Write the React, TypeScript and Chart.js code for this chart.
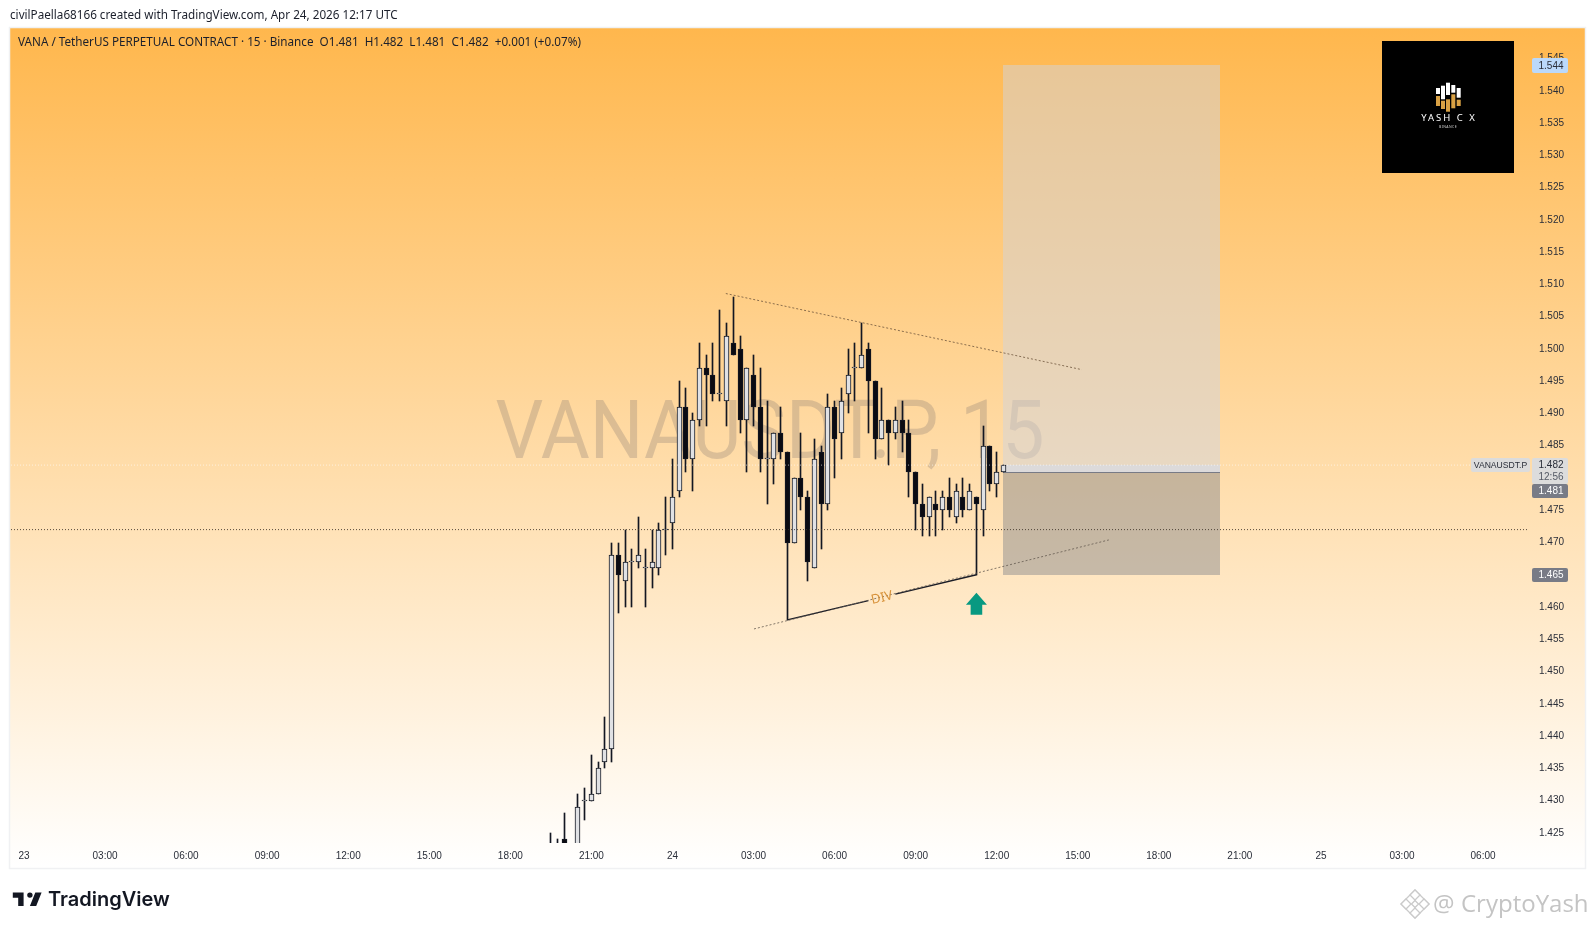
import React, { useEffect, useRef } from "react";
import { Chart, registerables } from "chart.js";

Chart.register(...registerables);

const firstBar = 78;
const opens = [1.422,1.421,1.424,1.420,1.422,1.430,1.430,1.431,1.436,1.438,1.468,1.464,1.467,1.467,1.466,1.466,1.466,1.472,1.473,1.478,1.491,1.483,1.489,1.497,1.496,1.493,1.492,1.501,1.500,1.489,1.496,1.491,1.483,1.483,1.487,1.484,1.470,1.480,1.477,1.466,1.484,1.476,1.491,1.487,1.493,1.497,1.497,1.500,1.495,1.486,1.489,1.487,1.489,1.487,1.481,1.476,1.474,1.476,1.475,1.477,1.474,1.477,1.475,1.477,1.475,1.485,1.479,1.481];
const highs = [1.425,1.424,1.428,1.423,1.431,1.432,1.437,1.436,1.443,1.470,1.470,1.472,1.469,1.474,1.469,1.472,1.473,1.477,1.483,1.495,1.494,1.490,1.501,1.499,1.501,1.506,1.504,1.508,1.502,1.497,1.499,1.497,1.492,1.487,1.491,1.484,1.480,1.487,1.478,1.486,1.485,1.493,1.492,1.494,1.500,1.501,1.504,1.501,1.495,1.494,1.489,1.491,1.492,1.489,1.481,1.479,1.477,1.478,1.478,1.480,1.479,1.480,1.479,1.477,1.488,1.485,1.484,1.482];
const lows = [1.420,1.420,1.420,1.419,1.421,1.427,1.430,1.431,1.435,1.436,1.459,1.460,1.460,1.466,1.460,1.463,1.465,1.468,1.469,1.477,1.481,1.478,1.488,1.488,1.492,1.492,1.488,1.499,1.487,1.481,1.488,1.481,1.476,1.479,1.483,1.458,1.470,1.475,1.464,1.466,1.469,1.475,1.480,1.483,1.490,1.492,1.497,1.487,1.483,1.486,1.482,1.486,1.484,1.477,1.472,1.471,1.471,1.471,1.472,1.474,1.473,1.474,1.475,1.465,1.471,1.478,1.477,1.481];
const closes = [1.423,1.422,1.422,1.422,1.429,1.430,1.431,1.435,1.438,1.468,1.465,1.467,1.467,1.468,1.466,1.467,1.472,1.472,1.477,1.491,1.483,1.489,1.497,1.496,1.493,1.493,1.502,1.499,1.489,1.497,1.491,1.483,1.483,1.487,1.484,1.470,1.480,1.477,1.467,1.483,1.476,1.491,1.486,1.492,1.496,1.497,1.499,1.495,1.486,1.489,1.487,1.489,1.487,1.481,1.476,1.474,1.477,1.475,1.477,1.475,1.478,1.475,1.478,1.476,1.485,1.479,1.481,1.482];

const priceTicks = [1.425,1.43,1.435,1.44,1.445,1.45,1.455,1.46,1.465,1.47,1.475,1.48,1.485,1.49,1.495,1.5,1.505,1.51,1.515,1.52,1.525,1.53,1.535,1.54,1.545];
const timeTickBars = [0,12,24,36,48,60,72,84,96,108,120,132,144,156,168,180,192,204,216];
const timeTickLabels = ["23","03:00","06:00","09:00","12:00","15:00","18:00","21:00","24","03:00","06:00","09:00","12:00","15:00","18:00","21:00","25","03:00","06:00"];

const boxBars = [144.95, 177.1];
const targetPrice = 1.544;
const currentPrice = 1.482;
const entryPrice = 1.481;
const stopPrice = 1.465;
const darkLevel = 1.472;

const upperTrendX = [103.9, 156.6];
const upperTrendY = [1.5086, 1.4968];
const lowerTrendX = [108.07, 160.6];
const lowerTrendY = [1.4566, 1.4704];
const solidLeftX = [113, 125];
const solidLeftY = [1.458, 1.461];
const solidRightX = [129, 141];
const solidRightY = [1.462, 1.465];
const arrowBar = 141;
const arrowTopPrice = 1.4622;
const divBar = 127;
const divPrice = 1.4614;

const xMin = -1.92;
const xMax = 222.8;
const yMin = 1.423414;
const yMax = 1.549764;

const headerText = "civilPaella68166 created with TradingView.com, Apr 24, 2026 12:17 UTC";
const legendText = "VANA / TetherUS PERPETUAL CONTRACT · 15 · Binance  O1.481  H1.482  L1.481  C1.482  +0.001 (+0.07%)";
const watermarkText = "VANAUSDT.P, 15";

const UI = '"Noto Sans", sans-serif';
const AXIS = '"Liberation Sans", sans-serif';

function pill(ctx: CanvasRenderingContext2D, x: number, y: number, w: number, h: number, fill: string) {
  ctx.fillStyle = fill;
  ctx.beginPath();
  ctx.roundRect(x, y, w, h, 2);
  ctx.fill();
}

const overlay = {
  id: "tvOverlay",
  beforeDraw(chart: any) {
    const { ctx, width, height } = chart;
    ctx.save();
    ctx.fillStyle = "#ffffff";
    ctx.fillRect(0, 0, width, height);
    const g = ctx.createLinearGradient(0, 28, 0, 868);
    g.addColorStop(0, "#FFB74D");
    g.addColorStop(1, "#FFFFFF");
    ctx.fillStyle = g;
    ctx.fillRect(10, 28, 1575, 840);
    ctx.strokeStyle = "#f0f1f3";
    ctx.lineWidth = 1.5;
    ctx.strokeRect(9.5, 27.5, 1576, 841);
    ctx.restore();
  },
  beforeDatasetsDraw(chart: any) {
    const { ctx, scales } = chart;
    const x = scales.x;
    const y = scales.y;
    ctx.save();
    // large symbol watermark, fitted to the width it has in the reference
    ctx.save();
    ctx.font = '400 82px Roboto, sans-serif';
    const fit = 549 / ctx.measureText(watermarkText).width;
    ctx.translate(770, 437);
    ctx.scale(fit, 1);
    ctx.textAlign = "center";
    ctx.textBaseline = "middle";
    ctx.fillStyle = "rgba(125,115,110,0.28)";
    ctx.fillText(watermarkText, 0, 0);
    ctx.restore();
    // long position box
    const l = Math.round(x.getPixelForValue(boxBars[0]));
    const r = Math.round(x.getPixelForValue(boxBars[1]));
    const yT = Math.round(y.getPixelForValue(targetPrice));
    const yC = Math.round(y.getPixelForValue(currentPrice));
    const yE = Math.round(y.getPixelForValue(entryPrice));
    const yS = Math.round(y.getPixelForValue(stopPrice));
    ctx.fillStyle = "rgba(209,212,220,0.5)";
    ctx.fillRect(l, yT, r - l, yC - yT);
    ctx.fillStyle = "rgba(217,217,222,0.92)";
    ctx.fillRect(l, yC, r - l, yE - yC);
    ctx.fillStyle = "rgba(120,123,134,0.42)";
    ctx.fillRect(l, yE, r - l, yS - yE);
    ctx.fillStyle = "#787b86";
    ctx.fillRect(l, yE, r - l, 1);
    ctx.restore();
    // keep candles crisp on the pixel grid
    chart.data.datasets.forEach((ds: any, i: number) => {
      if (ds.type !== "bar") return;
      chart.getDatasetMeta(i).data.forEach((el: any) => {
        el.x = Math.floor(el.x) + 0.5;
        el.y = Math.round(el.y);
        el.base = Math.round(el.base);
      });
    });
  },
  afterDraw(chart: any) {
    const { ctx, scales } = chart;
    const x = scales.x;
    const y = scales.y;
    ctx.save();
    // arrow
    const ax = x.getPixelForValue(arrowBar);
    const at = y.getPixelForValue(arrowTopPrice);
    ctx.fillStyle = "#089981";
    ctx.beginPath();
    ctx.moveTo(ax, at);
    ctx.lineTo(ax + 10.5, at + 12);
    ctx.lineTo(ax + 5.8, at + 12);
    ctx.lineTo(ax + 5.8, at + 22);
    ctx.lineTo(ax - 5.8, at + 22);
    ctx.lineTo(ax - 5.8, at + 12);
    ctx.lineTo(ax - 10.5, at + 12);
    ctx.closePath();
    ctx.fill();
    // DIV label
    ctx.save();
    ctx.translate(x.getPixelForValue(divBar), y.getPixelForValue(divPrice));
    ctx.rotate((-13.4 * Math.PI) / 180);
    ctx.font = '13px "Noto Sans", sans-serif';
    ctx.textAlign = "center";
    ctx.textBaseline = "middle";
    ctx.fillStyle = "#d8923a";
    ctx.fillText("DIV", 0, 0);
    ctx.restore();

    // header and legend
    ctx.textBaseline = "middle";
    ctx.textAlign = "left";
    ctx.font = `11.7px ${UI}`;
    ctx.fillStyle = "#1b1f2b";
    ctx.fillText(headerText, 10, 15.5);
    ctx.fillText(legendText, 18, 42.5);

    // logo block
    ctx.fillStyle = "#000000";
    ctx.fillRect(1382, 41, 132, 132);
    const logoX = [1436, 1441, 1446, 1451.3, 1456.7];
    const whiteTop = [88, 85.7, 82.7, 85, 88];
    const whiteBot = [94, 99.3, 95, 92.7, 97.7];
    const goldTop = [96, 100.7, 99.3, 94.3, 99.7];
    const goldBot = [106, 109, 111.7, 108.3, 106];
    logoX.forEach((lx, i) => {
      ctx.fillStyle = "#ffffff";
      ctx.fillRect(lx, whiteTop[i] , 4, whiteBot[i] - whiteTop[i]);
      ctx.fillStyle = "#d9a144";
      ctx.fillRect(lx, goldTop[i], 4, goldBot[i] - goldTop[i]);
    });
    ctx.textAlign = "center";
    ctx.fillStyle = "#ffffff";
    ctx.font = `9.5px ${UI}`;
    (ctx as any).letterSpacing = "2px";
    ctx.fillText("YASH C X", 1449, 118);
    (ctx as any).letterSpacing = "0.4px";
    ctx.font = `3.5px ${UI}`;
    ctx.fillStyle = "#cccccc";
    ctx.fillText("BINANCE", 1448, 126.5);
    (ctx as any).letterSpacing = "0px";

    // price pills
    ctx.font = `10px ${AXIS}`;
    ctx.textAlign = "center";
    pill(ctx, 1532, 58, 36, 15, "#bbd9fb");
    ctx.fillStyle = "#2a2e39";
    ctx.fillText(targetPrice.toFixed(3), 1551, 66);
    pill(ctx, 1471, 458, 59, 14, "#dcdcdc");
    ctx.fillStyle = "#2a2e39";
    ctx.font = `8.6px ${AXIS}`;
    ctx.fillText("VANAUSDT.P", 1500.5, 465.5);
    ctx.font = `10px ${AXIS}`;
    pill(ctx, 1532, 458, 36, 26, "#dcdcdc");
    ctx.fillStyle = "#2a2e39";
    ctx.fillText(currentPrice.toFixed(3), 1551, 465.5);
    ctx.fillStyle = "#555a66";
    ctx.fillText("12:56", 1551, 477);
    pill(ctx, 1532, 484, 36, 14, "#787b86");
    ctx.fillStyle = "#ffffff";
    ctx.fillText(entryPrice.toFixed(3), 1551, 491.5);
    pill(ctx, 1532, 568, 36, 14, "#787b86");
    ctx.fillStyle = "#ffffff";
    ctx.fillText(stopPrice.toFixed(3), 1551, 575.5);

    // TradingView mark
    ctx.save();
    ctx.translate(11, 887);
    ctx.scale(0.9, 0.9);
    ctx.fillStyle = "#131722";
    ctx.fill(new Path2D("M14 6H2v6h6v9h6V6zm14 15h-7l6-15h7l-6 15zm-7-9a3 3 0 1 0 0-6 3 3 0 0 0 0 6z"));
    ctx.restore();
    ctx.textAlign = "left";
    ctx.fillStyle = "#131722";
    ctx.font = '600 20px Inter, sans-serif';
    ctx.fillText("TradingView", 48, 900);

    // Binance style mark and handle
    ctx.strokeStyle = "#cacaca";
    ctx.fillStyle = "#ffffff";
    ctx.lineWidth = 1.3;
    const diamond = (cx: number, cy: number, h: number) => {
      ctx.beginPath();
      ctx.moveTo(cx, cy - h);
      ctx.lineTo(cx + h, cy);
      ctx.lineTo(cx, cy + h);
      ctx.lineTo(cx - h, cy);
      ctx.closePath();
      ctx.fill();
      ctx.stroke();
    };
    diamond(1415, 904, 14);
    diamond(1415, 895, 5);
    diamond(1415, 913, 5);
    diamond(1406, 904, 5);
    diamond(1424, 904, 5);
    diamond(1415, 904, 3.5);
    ctx.fillStyle = "#c4c4c4";
    ctx.font = `24px ${'"Open Sans", sans-serif'}`;
    ctx.fillText("@", 1433, 905);
    ctx.fillText("CryptoYash", 1461, 905);
    ctx.restore();
  },
};

function line(xs: number[], ys: number[], color: string, width: number, dash: number[] = []) {
  return {
    type: "line",
    data: xs.map((v, i) => ({ x: v, y: ys[i] })),
    borderColor: color,
    borderWidth: width,
    borderDash: dash,
    pointRadius: 0,
    tension: 0,
    order: 1,
  };
}

export default function App() {
  const ref = useRef<HTMLCanvasElement | null>(null);

  useEffect(() => {
    document.body.style.margin = "0";
    const isUp = (i: number) => closes[i] >= opens[i];
    const chart = new Chart(ref.current as HTMLCanvasElement, {
      type: "bar",
      plugins: [overlay],
      data: {
        datasets: [
          {
            type: "bar",
            data: opens.map((_, i) => ({ x: firstBar + i, y: [lows[i], highs[i]] })),
            backgroundColor: "#131722",
            barThickness: 1,
            grouped: false,
            order: 3,
          },
          {
            type: "bar",
            data: opens.map((o, i) => ({ x: firstBar + i, y: [o, closes[i]] })),
            backgroundColor: (c: any) => (isUp(c.dataIndex) ? "#e0e1e4" : "#0b0b12"),
            borderColor: "#131722",
            borderWidth: 1,
            borderSkipped: false,
            barThickness: 5,
            minBarLength: 1,
            grouped: false,
            order: 2,
          },
          line([xMin, xMax], [darkLevel, darkLevel], "rgba(60,50,40,0.85)", 1, [1, 2]),
          line([xMin, xMax], [currentPrice, currentPrice], "rgba(255,255,255,0.6)", 1, [1, 2]),
          line(upperTrendX, upperTrendY, "rgba(110,85,60,0.8)", 1, [2, 2]),
          line(lowerTrendX, lowerTrendY, "rgba(100,90,80,0.8)", 1, [2, 2]),
          line(solidLeftX, solidLeftY, "#1a1c26", 1.3),
          line(solidRightX, solidRightY, "#1a1c26", 1.3),
        ] as any,
      },
      options: {
        responsive: false,
        animation: false,
        events: [],
        layout: { padding: { left: 11, top: 28, right: 10, bottom: 61 } },
        plugins: { legend: { display: false }, tooltip: { enabled: false } },
        scales: {
          x: {
            type: "linear",
            min: xMin,
            max: xMax,
            offset: false,
            grid: { display: false, drawTicks: false },
            border: { display: false },
            afterFit: (s: any) => { s.height = 25; },
            afterBuildTicks: (s: any) => { s.ticks = timeTickBars.map((v) => ({ value: v })); },
            ticks: {
              autoSkip: false,
              maxRotation: 0,
              minRotation: 0,
              padding: 7,
              color: "#2a2e39",
              font: { family: "Liberation Sans", size: 10 },
              callback: (v: any) => timeTickLabels[timeTickBars.indexOf(Number(v))] ?? "",
            },
          },
          y: {
            type: "linear",
            position: "right",
            min: yMin,
            max: yMax,
            grid: { display: false, drawTicks: false },
            border: { display: false },
            afterFit: (s: any) => { s.width = 56; },
            afterBuildTicks: (s: any) => { s.ticks = priceTicks.map((v) => ({ value: v })); },
            ticks: {
              autoSkip: false,
              padding: 10,
              color: "#2a2e39",
              font: { family: "Liberation Sans", size: 10 },
              callback: (v: any) => Number(v).toFixed(3),
            },
          },
        },
      } as any,
    });
    return () => chart.destroy();
  }, []);

  return <canvas ref={ref} width={1595} height={929} style={{ position: "fixed", left: 0, top: 0, display: "block" }} />;
}
